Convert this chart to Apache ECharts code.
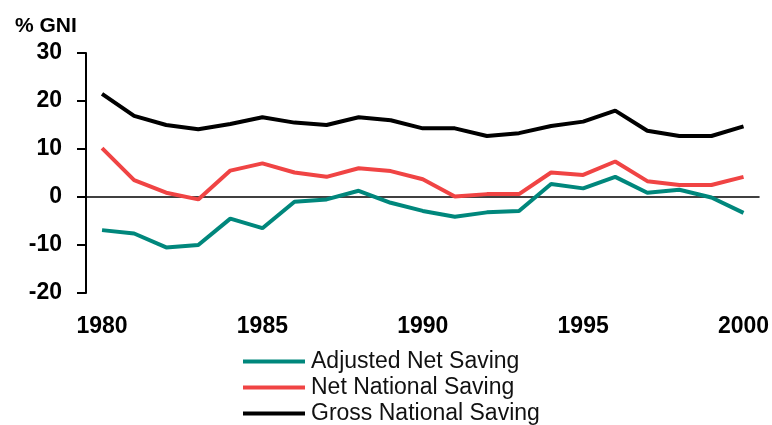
<!DOCTYPE html>
<html>
<head>
<meta charset="utf-8">
<script src="https://cdn.jsdelivr.net/npm/echarts@6/dist/echarts.min.js"></script>
<style>
    html, body { margin: 0; padding: 0; background: #fff; }
    #chart { width: 772px; height: 425px; }
</style>
</head>
<body>
<div id="chart"></div>
<script>
var years = ['1980', '1981', '1982', '1983', '1984', '1985', '1986', '1987', '1988', '1989', '1990',
    '1991', '1992', '1993', '1994', '1995', '1996', '1997', '1998', '1999', '2000'];
var adjustedNet = [-6.9, -7.6, -10.5, -10.0, -4.5, -6.5, -1.0, -0.5, 1.3, -1.2, -2.9,
    -4.1, -3.2, -2.9, 2.7, 1.8, 4.2, 0.9, 1.5, -0.1, -3.3];
var netNational = [10.2, 3.5, 0.9, -0.5, 5.5, 7.0, 5.1, 4.2, 6.0, 5.4, 3.7,
    0.1, 0.6, 0.6, 5.1, 4.6, 7.4, 3.3, 2.5, 2.5, 4.2];
var grossNational = [21.5, 16.9, 15.0, 14.1, 15.2, 16.6, 15.5, 15.0, 16.6, 16.0, 14.3,
    14.3, 12.7, 13.3, 14.8, 15.7, 18.0, 13.8, 12.7, 12.7, 14.7];

var FONT = '"Liberation Sans", Arial, sans-serif';
var TEAL = '#00877c';
var RED = '#f04444';

var chart = echarts.init(document.getElementById('chart'));

function lineSeries(name, data, color)
{
    return {
        name: name,
        type: 'line',
        data: data,
        symbol: 'none',
        lineStyle: { color: color, width: 4 },
        itemStyle: { color: color },
        z: 3
    };
}

var series = [
    lineSeries('Adjusted Net Saving', adjustedNet, TEAL),
    lineSeries('Net National Saving', netNational, RED),
    lineSeries('Gross National Saving', grossNational, '#000')
];
// zero line across the plot
series[0].markLine = {
    silent: true,
    symbol: 'none',
    label: { show: false },
    lineStyle: { color: '#000', width: 1.5, type: 'solid' },
    data: [{ yAxis: 0 }],
    z: 1
};

var option = {
    animation: false,
    backgroundColor: '#fff',
    title: {
        text: '% GNI',
        left: 10,
        top: 11,
        textStyle: { fontFamily: FONT, fontSize: 21, fontWeight: 'bold', color: '#000' }
    },
    grid: { left: 86, right: 8, top: 53, bottom: 132 },
    legend: {
        orient: 'vertical',
        left: 243,
        top: 350,
        height: 90,
        padding: 0,
        itemWidth: 62,
        itemHeight: 4,
        itemGap: 3,
        icon: 'rect',
        textStyle: { fontFamily: FONT, fontSize: 23, lineHeight: 22.5, color: '#111', padding: [0, 0, 0, 1] },
        data: ['Adjusted Net Saving', 'Net National Saving', 'Gross National Saving']
    },
    xAxis: {
        type: 'category',
        data: years,
        boundaryGap: true,
        axisLine: { show: false },
        axisTick: { show: false },
        axisLabel: {
            interval: 4,
            margin: 22,
            fontFamily: FONT,
            fontSize: 23,
            fontWeight: 'bold',
            color: '#000'
        },
        splitLine: { show: false }
    },
    yAxis: {
        type: 'value',
        min: -20,
        max: 30,
        interval: 10,
        axisLine: { show: true, lineStyle: { color: '#000', width: 2 } },
        axisTick: { show: true, length: 9, lineStyle: { color: '#000', width: 2 } },
        axisLabel: {
            margin: 24,
            fontFamily: FONT,
            fontSize: 23,
            fontWeight: 'bold',
            color: '#000'
        },
        splitLine: { show: false }
    },
    series: series
};

chart.setOption(option);
</script>
</body>
</html>
